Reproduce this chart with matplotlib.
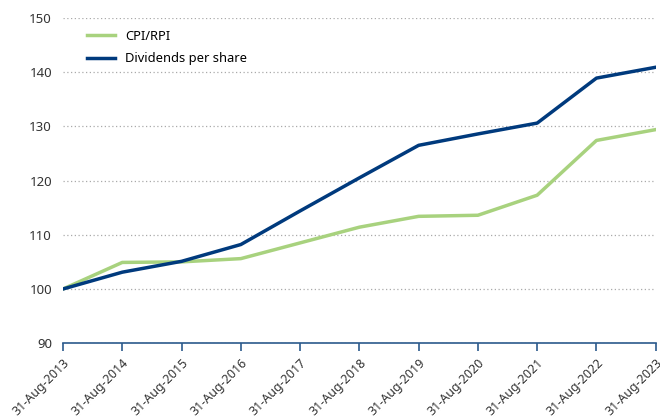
import matplotlib
matplotlib.use('Agg')
import matplotlib.pyplot as plt

# Data
dates = ['31-Aug-2013', '31-Aug-2014', '31-Aug-2015', '31-Aug-2016', '31-Aug-2017',
         '31-Aug-2018', '31-Aug-2019', '31-Aug-2020', '31-Aug-2021', '31-Aug-2022',
         '31-Aug-2023']
cpi_rpi = [100, 104.9, 105.0, 105.6, 108.5, 111.4, 113.4, 113.6, 117.3, 127.4, 129.4]
dividends = [100, 103.1, 105.1, 108.2, 114.4, 120.5, 126.5, 128.6, 130.6, 138.9, 140.9]

plt.rcParams['font.family'] = ['Noto Sans', 'DejaVu Sans']

fig = plt.figure(figsize=(6.6, 4.17), dpi=100)
ax = fig.add_axes([0.0955, 0.177, 0.898, 0.78])

x = list(range(len(dates)))
ax.plot(x, cpi_rpi, color='#a8d27e', linewidth=2.5, label='CPI/RPI')
ax.plot(x, dividends, color='#003a7d', linewidth=2.5, label='Dividends per share')

ax.set_xlim(0, len(dates) - 1)
ax.set_ylim(90, 150)
ax.set_yticks(range(90, 151, 10))
ax.set_xticks(x)
ax.set_xticklabels(dates, rotation=45, ha='right', rotation_mode='anchor')

ax.grid(axis='y', linestyle=(0, (1, 2)), color='#aaaaaa', linewidth=0.9)
ax.set_axisbelow(True)
for s in ['top', 'right', 'left']:
    ax.spines[s].set_visible(False)
ax.spines['bottom'].set_color('#2b5a8c')
ax.spines['bottom'].set_linewidth(1.2)
ax.tick_params(axis='x', colors='#2b5a8c', length=6, width=1.2, labelcolor='#333333', labelsize=9)
ax.tick_params(axis='y', length=0, labelcolor='#333333', labelsize=9.5, pad=8)

ax.legend(loc='upper left', bbox_to_anchor=(0.02, 1.0), frameon=False, fontsize=9.3,
          handlelength=2.2, labelspacing=0.75)

plt.savefig('out.png', dpi=100)
plt.close()
